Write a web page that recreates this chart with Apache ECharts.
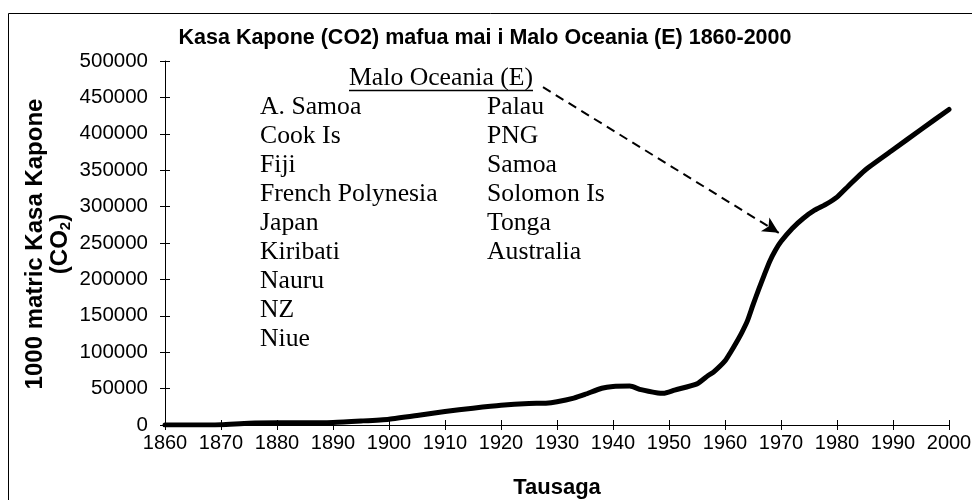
<!DOCTYPE html>
<html>
<head>
<meta charset="utf-8">
<script src="https://cdn.jsdelivr.net/npm/echarts@6/dist/echarts.min.js"></script>
<style>
  html, body { margin: 0; padding: 0; background: #fff; }
  #main { width: 972px; height: 500px; }
</style>
</head>
<body>
<div id="main"></div>
<script>
// years and emissions (1000 metric tons CO2)
var years = [1860, 1865, 1870, 1875, 1880, 1885, 1890, 1895, 1900, 1905, 1910, 1915, 1920, 1925, 1928, 1930,
  1933, 1935, 1938, 1940, 1943, 1945, 1948, 1949, 1951, 1955, 1957, 1958, 1960, 1961, 1962, 1963, 1964, 1965,
  1966, 1967, 1968, 1969, 1970, 1972, 1974, 1976, 1978, 1980, 1982, 1985, 1990, 1995, 2000];
var co2 = [0, 0, 500, 2500, 3000, 3000, 3500, 5500, 8000, 13000, 18500, 23000, 27000, 29500, 30000, 32000,
  37000, 42000, 50500, 53000, 53500, 48500, 44000, 43500, 48000, 56500, 68000, 73000, 88000, 100000, 113000, 127000, 143000, 165000,
  186000, 206000, 225000, 240000, 252000, 270000, 284000, 295000, 303000, 313000, 328000, 350000, 378000, 406000, 433500];
var countriesLeft = ['A. Samoa', 'Cook Is', 'Fiji', 'French Polynesia', 'Japan', 'Kiribati', 'Nauru', 'NZ', 'Niue'];
var countriesRight = ['Palau', 'PNG', 'Samoa', 'Solomon Is', 'Tonga', 'Australia'];
var arrowFrom = [1927.5, 464000];
var arrowTo = [1969.6, 264000];

var sans = 'Liberation Sans';
var serif = 'Liberation Serif';

var pts = [];
$each = function(arr, fn){ for (var i = 0; i < arr.length; i++) fn(i, arr[i]); };
$each(years, function(i, y){ pts.push([y, co2[i]]); });

var graphics = [
  { type: 'rect', shape: { x: 8.5, y: 13.5, width: 1000, height: 600 }, style: { fill: null, stroke: '#000', lineWidth: 1 }, silent: true },
  { type: 'text', x: 48, y: 244, rotation: Math.PI / 2,
    style: { text: '{a|1000 matric Kasa Kapone}\n{a|(CO}{s|2}{a|)}', align: 'center', verticalAlign: 'middle',
      rich: { a: { fontFamily: sans, fontWeight: 'bold', fontSize: 24, lineHeight: 25, fill: '#000' },
              s: { fontFamily: sans, fontWeight: 'bold', fontSize: 15, lineHeight: 25, verticalAlign: 'bottom', fill: '#000' } } } },
  { type: 'text', x: 349, y: 78, style: { text: 'Malo Oceania (E)', fontFamily: serif, fontSize: 25.7, fill: '#000', verticalAlign: 'middle' } },
  { type: 'line', shape: { x1: 349, y1: 90.5, x2: 533, y2: 90.5 }, style: { stroke: '#000', lineWidth: 1.5 } }
];
$each(countriesLeft, function(i, c){
  graphics.push({ type: 'text', x: 260, y: 107 + i * 29, style: { text: c, fontFamily: serif, fontSize: 25.7, fill: '#000', verticalAlign: 'middle' } });
});
$each(countriesRight, function(i, c){
  graphics.push({ type: 'text', x: 487, y: 107 + i * 29, style: { text: c, fontFamily: serif, fontSize: 25.7, fill: '#000', verticalAlign: 'middle' } });
});

var plain = function(v){ return String(v); };

var myChart = echarts.init(document.getElementById('main'));
var option = {
  animation: false,
  backgroundColor: '#fff',
  title: {
    text: 'Kasa Kapone (CO2) mafua mai i Malo Oceania (E) 1860-2000',
    left: 480, top: 22, textAlign: 'center',
    textStyle: { fontFamily: sans, fontWeight: 'bold', fontSize: 21.5, color: '#000' }
  },
  grid: { left: 165, right: 23, top: 61, bottom: 75, outerBoundsMode: 'none' },
  xAxis: [{
    type: 'value', min: 1860, max: 2000, interval: 10,
    name: 'Tausaga', nameLocation: 'middle', nameGap: 52,
    nameTextStyle: { fontFamily: sans, fontWeight: 'bold', fontSize: 22, color: '#000' },
    axisLine: { lineStyle: { color: '#000', width: 1 } },
    axisTick: { show: true, length: 5, lineStyle: { color: '#000' } },
    axisLabel: { color: '#000', fontFamily: sans, fontSize: 20, margin: 8, formatter: plain },
    splitLine: { show: false }
  }, {
    type: 'value', min: 1860, max: 2000, interval: 10, position: 'bottom',
    axisLine: { show: false }, axisLabel: { show: false }, splitLine: { show: false },
    axisTick: { show: true, inside: true, length: 5, lineStyle: { color: '#000' } }
  }],
  yAxis: [{
    type: 'value', min: 0, max: 500000, interval: 50000,
    axisLine: { show: true, lineStyle: { color: '#000', width: 1 } },
    axisTick: { show: true, length: 5, lineStyle: { color: '#000' } },
    axisLabel: { color: '#000', fontFamily: sans, fontSize: 20.5, margin: 17, formatter: plain },
    splitLine: { show: false }
  }, {
    type: 'value', min: 0, max: 500000, interval: 50000, position: 'left',
    axisLine: { show: false }, axisLabel: { show: false }, splitLine: { show: false },
    axisTick: { show: true, inside: true, length: 5, lineStyle: { color: '#000' } }
  }],
  series: [{
    type: 'line',
    data: pts,
    showSymbol: false,
    smooth: 0.2,
    lineStyle: { color: '#000', width: 5, join: 'round', cap: 'round' },
    markLine: {
      silent: true,
      symbol: ['none', 'arrow'],
      symbolSize: [12, 16],
      label: { show: false },
      lineStyle: { color: '#000', width: 2, type: [9, 6] },
      data: [[{ coord: arrowFrom }, { coord: arrowTo }]]
    }
  }],
  graphic: graphics
};
myChart.setOption(option);
</script>
</body>
</html>
